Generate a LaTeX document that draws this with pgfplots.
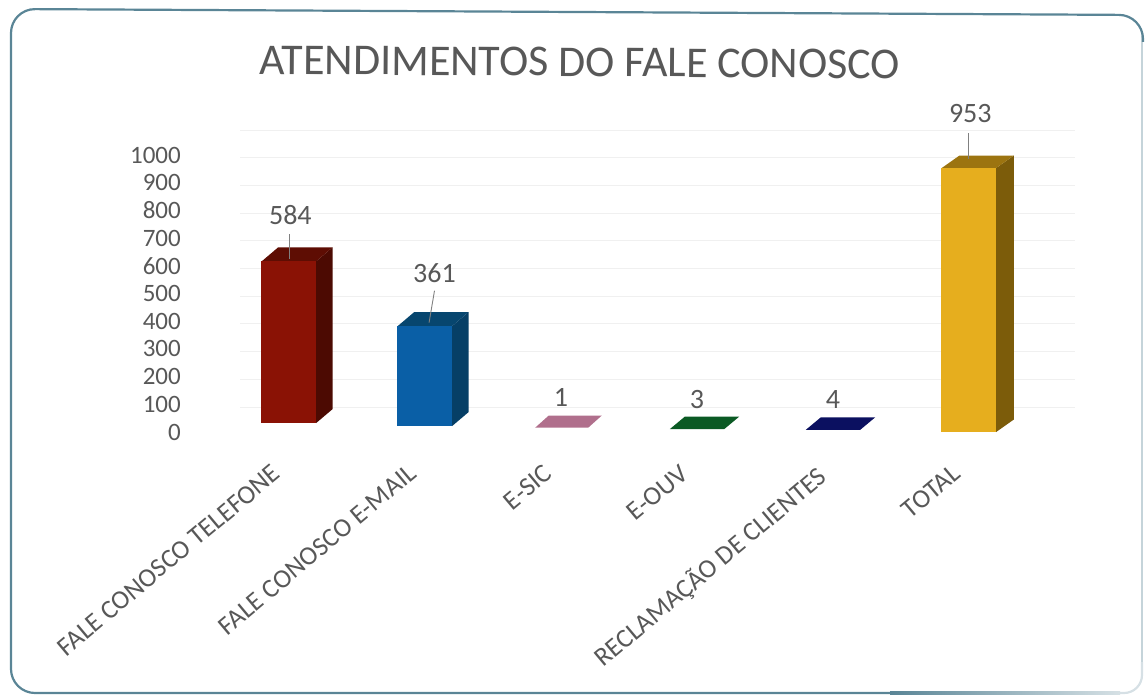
\documentclass[border=0pt]{standalone}
\usepackage{pgfplots}
\pgfplotsset{compat=1.18}
\usepackage{fontspec}
\setmainfont{Carlito}

\definecolor{txt}{HTML}{585858}
\definecolor{frame}{HTML}{5A8596}
\definecolor{wall}{HTML}{F0F0F0}
\definecolor{redF}{HTML}{8A1205}
\definecolor{redS}{HTML}{4C0A02}
\definecolor{redT}{HTML}{5E0D03}
\definecolor{bluF}{HTML}{0A5FA6}
\definecolor{bluS}{HTML}{063F66}
\definecolor{bluT}{HTML}{07466F}
\definecolor{pnk}{HTML}{B06F8C}
\definecolor{grn}{HTML}{0B5A24}
\definecolor{nvy}{HTML}{0B1060}
\definecolor{yelF}{HTML}{E6AE1E}
\definecolor{yelS}{HTML}{7C5C0A}
\definecolor{yelT}{HTML}{9C7410}

\begin{document}
\begin{tikzpicture}
% page is 1145x697, axis origin sits at pixel (190,432)
\path[use as bounding box] (-190pt,-265pt) rectangle (955pt,432pt);
\begin{axis}[
    at={(0,0)}, anchor=south west,
    scale only axis,
    width=885pt, height=277pt,
    xmin=-0.728, xmax=5.78,
    ymin=0, ymax=1000,
    clip=false,
    axis line style={draw=none},
    major tick length=0pt,
    xtick={0,1,2,3,4,5},
    xticklabels={FALE CONOSCO TELEFONE,FALE CONOSCO E-MAIL,E-SIC,E-OUV,RECLAMAÇÃO DE CLIENTES,TOTAL},
    ytick={0,100,...,1000},
    /pgf/number format/assume math mode=true,
    /pgf/number format/1000 sep={},
    tick label style={font=\fontsize{25}{25}\selectfont, text=txt},
    yticklabel style={inner sep=0pt, xshift=-9pt},
    % shifts here act along the rotated label
    xticklabel style={rotate=40, anchor=north east, inner sep=0pt, xshift=-34pt, yshift=-12pt,
        font=\fontsize{26.5}{26.5}\selectfont},
]

% back wall lines
\pgfplotsinvokeforeach{0,100,...,1000}{
    \addplot[wall, line width=1pt, yshift=25pt] coordinates {(-0.36,#1)(5.78,#1)};
}

% side and top faces, then front
\addplot[fill=redS, draw=none, yshift=9pt] coordinates {(0.2,0)(0.32,50)(0.32,634)(0.2,584)} -- cycle;
\addplot[fill=redT, draw=none, yshift=9pt] coordinates {(-0.2,584)(-0.08,634)(0.32,634)(0.2,584)} -- cycle;
\addplot[ybar, bar width=55pt, bar shift=0pt, fill=redF, draw=none, yshift=9pt] coordinates {(0,584)};

\addplot[fill=bluS, draw=none, yshift=6pt] coordinates {(1.2,0)(1.32,50)(1.32,411)(1.2,361)} -- cycle;
\addplot[fill=bluT, draw=none, yshift=6pt] coordinates {(0.8,361)(0.92,411)(1.32,411)(1.2,361)} -- cycle;
\addplot[ybar, bar width=55pt, bar shift=0pt, fill=bluF, draw=none, yshift=6pt] coordinates {(1,361)};

\addplot[fill=pnk, draw=none, yshift=4pt] coordinates {(1.81,1)(1.91,45)(2.3,45)(2.2,1)} -- cycle;
\addplot[fill=grn, draw=none, yshift=2pt] coordinates {(2.8,3)(2.91,48)(3.31,48)(3.2,3)} -- cycle;
\addplot[fill=nvy, draw=none, yshift=1pt] coordinates {(3.8,4)(3.91,49)(4.31,49)(4.2,4)} -- cycle;

\addplot[fill=yelS, draw=none] coordinates {(5.2,0)(5.33,45)(5.33,998)(5.2,953)} -- cycle;
\addplot[fill=yelT, draw=none] coordinates {(4.8,953)(4.93,998)(5.33,998)(5.2,953)} -- cycle;
\addplot[ybar, bar width=55pt, bar shift=0pt, fill=yelF, draw=none] coordinates {(5,953)};

% leader lines and value labels
\draw[gray, line width=0.9pt] (axis cs:0,625) -- (axis cs:0,715);
\draw[gray, line width=0.9pt] (axis cs:1.03,395) -- (axis cs:1.07,510);
\draw[gray, line width=0.9pt] (axis cs:5,985) -- (axis cs:5,1080);
\begin{scope}[every node/.style={text=txt, font=\fontsize{28}{28}\selectfont}]
\node at (axis cs:0.01,784) {584};
\node at (axis cs:1.07,574) {361};
\node at (axis cs:2,123) {1};
\node at (axis cs:3,119) {3};
\node at (axis cs:4,116) {4};
\node at (axis cs:5.01,1148) {953};
\end{scope}
\node[text=txt, font=\fontsize{44}{44}\selectfont, rotate=-0.4] at (axis cs:2.14,1335) {ATENDIMENTOS DO FALE CONOSCO};
\end{axis}

% frame: dark on the left, top and bottom, pale on the right
\draw[frame!35, line width=1.5pt] (952pt,400pt) -- (952pt,-240pt);
\draw[frame, line width=2.2pt, rounded corners=24pt]
    (700pt,-261pt) -- (-179pt,-261pt) -- (-179pt,423pt) -- (953pt,417pt) -- (953pt,390pt);
\shade[left color=frame, right color=frame!25] (700pt,-262.1pt) rectangle (930pt,-259.9pt);
\draw[frame!25, line width=2.2pt, rounded corners=18pt] (930pt,-261pt) -- (952pt,-261pt) -- (952pt,-230pt);
\end{tikzpicture}
\end{document}
